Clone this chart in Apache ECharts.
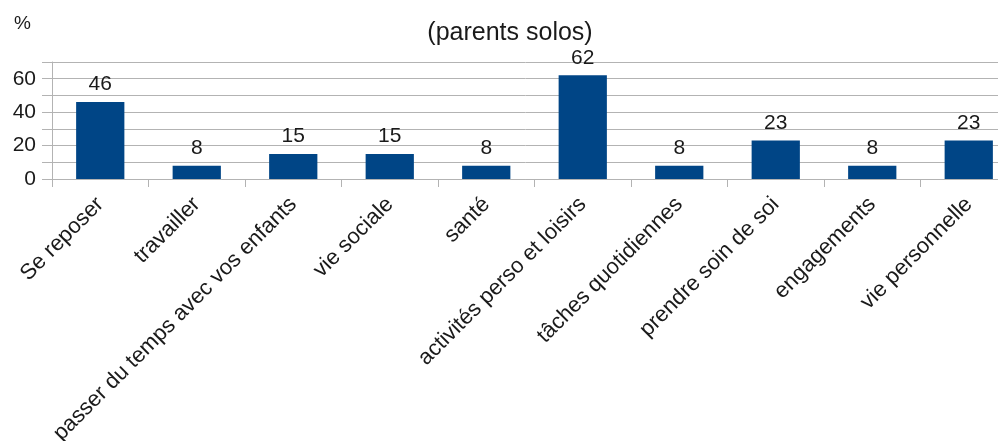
<!DOCTYPE html>
<html><head><meta charset="utf-8">
<script src="https://cdn.jsdelivr.net/npm/echarts@6/dist/echarts.min.js"></script>
<style>html,body{margin:0;padding:0;background:#fff}#c{width:998px;height:441px}</style>
</head><body><div id="c"></div>
<script>
const categories = ["Se reposer","travailler","passer du temps avec vos enfants","vie sociale","santé","activités perso et loisirs","tâches quotidiennes","prendre soin de soi","engagements","vie personnelle"];
const values = [46, 8, 15, 15, 8, 62, 8, 23, 8, 23];
const yTickLabels = [0, 20, 40, 60];
const titleText = "(parents solos)";
const unitText = "%";

const chart = echarts.init(document.getElementById('c'), null, {renderer:'canvas'});
const font = 'Liberation Sans, Arial, sans-serif';
chart.setOption({
  animation:false,
  backgroundColor:'#fff',
  title:[
    {text:titleText, left:505, top:16, textAlign:'center', textStyle:{fontFamily:font, fontSize:25, fontWeight:'normal', color:'#1a1a1a'}},
    {text:unitText, left:9, top:9, textStyle:{fontFamily:font, fontSize:19, fontWeight:'normal', color:'#1a1a1a'}}
  ],
  grid:{left:52, right:-19, top:62, height:117, containLabel:false, outerBoundsMode:'none'},
  xAxis:{
    type:'category', data:categories,
    axisLine:{lineStyle:{color:'#b3b3b3'}},
    axisTick:{show:true, length:8, lineStyle:{color:'#b3b3b3'}},
    axisLabel:{rotate:45, interval:0, margin:22, fontFamily:font, fontSize:22, color:'#1a1a1a'}
  },
  yAxis:{
    type:'value', min:0, max:70, interval:10,
    axisLine:{show:true, lineStyle:{color:'#b3b3b3'}},
    axisTick:{show:true, length:10, lineStyle:{color:'#b3b3b3'}},
    splitLine:{lineStyle:{color:'#b3b3b3'}},
    axisLabel:{fontFamily:font, fontSize:21, color:'#1a1a1a', margin:16,
      formatter:v => yTickLabels.includes(v) ? String(v) : ''}
  },
  series:[{
    type:'bar', data:values, barWidth:'50%',
    itemStyle:{color:'#004586'},
    label:{show:true, position:'top', distance:7, fontFamily:font, fontSize:21, color:'#1a1a1a'}
  }]
});
</script></body></html>
